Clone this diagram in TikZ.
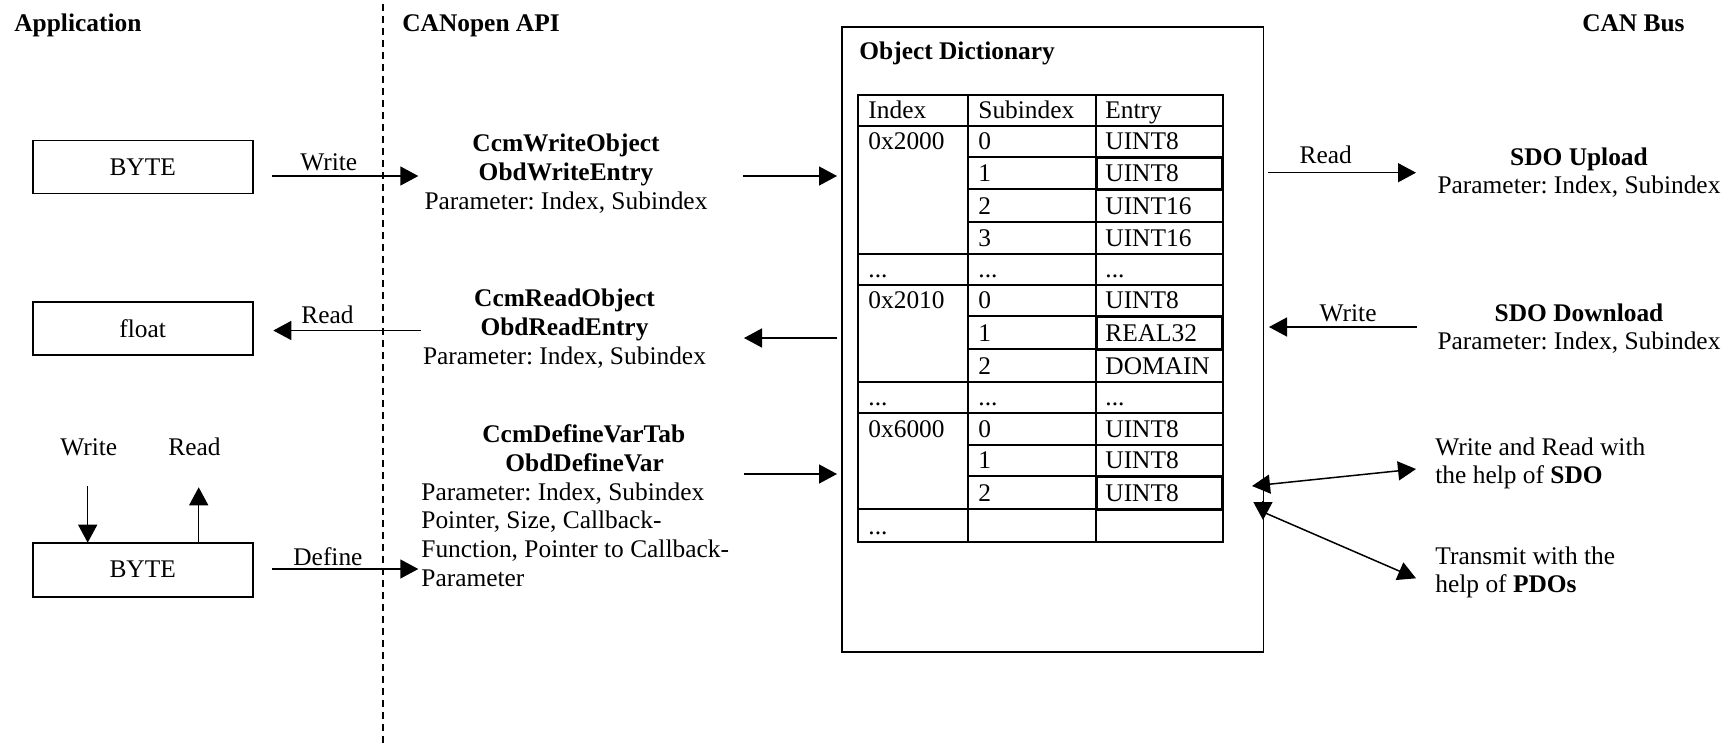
\documentclass[tikz,border=0pt]{standalone}
\usepackage{fontspec}
\setmainfont{Liberation Serif}
\usetikzlibrary{arrows.meta}
\newcommand{\mydots}{...}
\frenchspacing
\begin{document}
\frenchspacing
\begin{tikzpicture}[x=0.5pt,y=-0.5pt,
  txt/.style={inner sep=0pt, font=\fontsize{12.7}{14.35}\selectfont\frenchspacing},
  hd/.style={inner sep=0pt, font=\fontsize{12.7}{14.35}\selectfont\bfseries},
  box/.style={draw, line width=0.8pt, inner sep=0pt, font=\fontsize{12.7}{14.35}\selectfont},
  arr/.style={line width=0.75pt, -{Triangle[length=9pt,width=9.5pt]}},
  darr/.style={line width=0.75pt, {Triangle[length=9pt,width=9.5pt]}-{Triangle[length=9pt,width=9.5pt]}},
  tbl/.style={line width=0.8pt},
  thick box/.style={line width=1.5pt},
  sep/.style={line width=0.9pt, dash pattern=on 3.5pt off 2.5pt}
]
\useasboundingbox (0,0) rectangle (1735,745);

% separator
\coordinate (dtop) at (383,4);
\coordinate (dbot) at (383,745);
\draw[sep] (dtop) -- (dbot);

% headers
\node[hd, anchor=base west] (happ) at (14,31) {Application};
\node[hd, anchor=base west] (hapi) at (402,31) {CANopen API};
\node[hd, anchor=base east] (hcan) at (1685,31) {CAN Bus};

% application boxes
\node[box, minimum width=110pt, minimum height=26.5pt] (byte1) at (142.7,166.8) {BYTE};
\node[box, minimum width=110pt, minimum height=26.5pt] (float) at (142.7,328.7) {float};
\node[box, minimum width=110pt, minimum height=27pt] (byte2) at (142.7,569.7) {BYTE};

\node[txt, anchor=base west] (lw2) at (60,455) {Write};
\node[txt, anchor=base west] (lr2) at (168,455) {Read};
\coordinate (dn1) at (87.7,486);
\coordinate (dn2) at (87.7,542.7);
\coordinate (up1) at (198.7,542.7);
\coordinate (up2) at (198.7,487.3);
\draw[arr] (dn1) -- (dn2);
\draw[arr] (up1) -- (up2);

% app <-> API arrows
\coordinate (w1a) at (272,176);
\coordinate (w1b) at (418.3,176);
\draw[arr] (w1a) -- (w1b);
\node[txt, anchor=base west] (lw1) at (300,170.7) {Write};

\coordinate (r1a) at (420.7,330.5);
\coordinate (r1b) at (273.3,330.5);
\draw[arr] (r1a) -- (r1b);
\node[txt, anchor=base west] (lr1) at (301,323.3) {Read};

\coordinate (d1a) at (272,569);
\coordinate (d1b) at (418.3,569);
\draw[arr] (d1a) -- (d1b);
\node[txt, anchor=base west] (ld1) at (293,565) {Define};

% API blocks
\node[txt, anchor=base] (api1) at (566,151.7) {\begin{tabular}[t]{@{}c@{}}\textbf{CcmWriteObject}\\\textbf{ObdWriteEntry}\\Parameter: Index, Subindex\end{tabular}};
\node[txt, anchor=base] (api2) at (564.5,306.7) {\begin{tabular}[t]{@{}c@{}}\textbf{CcmReadObject}\\\textbf{ObdReadEntry}\\Parameter: Index, Subindex\end{tabular}};
\node[txt, anchor=base west] (api3) at (421,442.7) {\begin{tabular}[t]{@{}l@{}}\hspace*{30.5pt}\textbf{CcmDefineVarTab}\\\hspace*{42pt}\textbf{ObdDefineVar}\\Parameter: Index, Subindex\\Pointer, Size, Callback-\\Function, Pointer to Callback-\\Parameter\end{tabular}};

% API <-> OD arrows
\coordinate (a1a) at (743,176);
\coordinate (a1b) at (837,176);
\draw[arr] (a1a) -- (a1b);
\coordinate (a2a) at (837,338);
\coordinate (a2b) at (744,338);
\draw[arr] (a2a) -- (a2b);
\coordinate (a3a) at (744,474);
\coordinate (a3b) at (837,474);
\draw[arr] (a3a) -- (a3b);

% Object dictionary
\node[draw, line width=0.8pt, inner sep=0pt, minimum width=210.85pt, minimum height=312.5pt, anchor=north west] (od) at (841,26) {};
\node[hd, anchor=base west] (odt) at (859,59.3) {Object Dictionary};

% table lines
\draw[tbl] (858,95) rectangle (1223,542);
\draw[tbl] (968,95) -- (968,542);
\draw[tbl] (1096,95) -- (1096,542);
\foreach \yy in {126,254,285,382,413,509}{\draw[tbl] (858,\yy) -- (1223,\yy);}
\foreach \yy in {157,189,222,316,349,445,476}{\draw[tbl] (968,\yy) -- (1223,\yy);}
\draw[thick box] (1096,157) rectangle (1222,189);
\draw[thick box] (1096,316) rectangle (1222,349);
\draw[thick box] (1096,476) rectangle (1222,509);

% table text
\node[txt, anchor=base west] (thi) at (868,118.5) {Index};
\node[txt, anchor=base west] (ths) at (978,118.5) {Subindex};
\node[txt, anchor=base west] (the) at (1105,118.5) {Entry};
\node[txt, anchor=base west] (idx1) at (868,149.5) {0x2000};
\node[txt, anchor=base west] (idx2) at (868,277.5) {\mydots};
\node[txt, anchor=base west] (idx3) at (868,308.5) {0x2010};
\node[txt, anchor=base west] (idx4) at (868,405.5) {\mydots};
\node[txt, anchor=base west] (idx5) at (868,437.5) {0x6000};
\node[txt, anchor=base west] (idx6) at (868,534.5) {\mydots};
\foreach \bl/\s/\e [count=\k] in {149.5/0/UINT8, 181.5/1/UINT8, 214.5/2/UINT16, 246.5/3/UINT16, 277.5/\mydots/\mydots, 308.5/0/UINT8, 341.5/1/REAL32, 374.5/2/DOMAIN, 405.5/\mydots/\mydots, 437.5/0/UINT8, 468.5/1/UINT8, 501.5/2/UINT8}{
  \node[txt, anchor=base west] (sub\k) at (978,\bl) {\s};
  \node[txt, anchor=base west] (ent\k) at (1105,\bl) {\e};
}

% OD <-> CAN arrows
\coordinate (c1a) at (1268,172.7);
\coordinate (c1b) at (1416,172.7);
\draw[arr] (c1a) -- (c1b);
\node[txt, anchor=base west] (lcr) at (1299.3,163.3) {Read};
\coordinate (c2a) at (1417,327);
\coordinate (c2b) at (1269,327);
\draw[arr] (c2a) -- (c2b);
\node[txt, anchor=base west] (lcw) at (1319.3,321) {Write};

\coordinate (c3a) at (1252,486);
\coordinate (c3b) at (1416,469);
\draw[darr] (c3a) -- (c3b);
\coordinate (c4a) at (1263,512);
\coordinate (c4b) at (1416,578.3);
\draw[arr] (c4a) -- (c4b);
\coordinate (c4h1) at (1263,501);
\coordinate (c4h2) at (1263,520);
\draw[arr] (c4h1) -- (c4h2);

% CAN side texts
\node[txt, anchor=base] (sdou) at (1579,165) {\begin{tabular}[t]{@{}c@{}}\textbf{SDO Upload}\\Parameter: Index, Subindex\end{tabular}};
\node[txt, anchor=base] (sdod) at (1579,321) {\begin{tabular}[t]{@{}c@{}}\textbf{SDO Download}\\Parameter: Index, Subindex\end{tabular}};
\node[txt, anchor=base west] (sdo) at (1435,455) {\begin{tabular}[t]{@{}l@{}}Write and Read with\\the help of \textbf{SDO}\end{tabular}};
\node[txt, anchor=base west] (pdo) at (1435,564) {\begin{tabular}[t]{@{}l@{}}Transmit with the\\help of \textbf{PDOs}\end{tabular}};
\end{tikzpicture}
\end{document}
